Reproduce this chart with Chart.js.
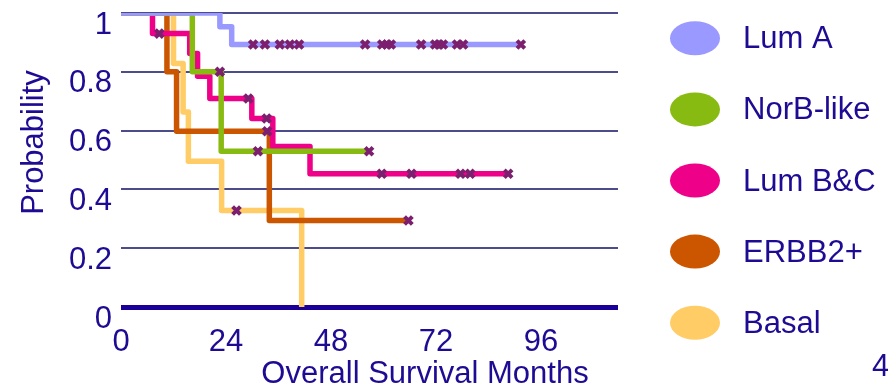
<!DOCTYPE html>
<html><head><meta charset="utf-8">
<script src="https://cdn.jsdelivr.net/npm/chart.js@4/dist/chart.umd.min.js"></script>
<style>html,body{margin:0;padding:0;background:#fff;overflow:hidden}#wrap{width:888px;height:386px;position:relative}</style>
</head><body><div id="wrap"><canvas id="c" width="888" height="386"></canvas></div>
<script>
// ---- data (months, survival probability) ----
const seriesNames  = ['Lum A', 'NorB-like', 'Lum B&C', 'ERBB2+', 'Basal'];
const seriesColors = ['#9999ff', '#88bb11', '#ee0088', '#cc5500', '#ffcc66'];

const lumATimes   = [0, 22.6, 25.3, 91.4];
const lumAProb    = [1, 0.953, 0.893, 0.893];
const lumACensor  = [30.2, 32.9, 36.3, 38.6, 40.7, 55.8, 59.7, 60.8, 61.7, 68.6, 71.8, 72.7, 73.6, 76.8, 78.2, 91.4];

const norbTimes   = [0, 16.3, 22.9, 56.7];
const norbProb    = [1, 0.80, 0.53, 0.53];
const norbCensor  = [22.6, 31.3, 56.7];

const lumBCTimes  = [0, 7.2, 15.7, 17.5, 20.3, 29.9, 34.7, 43.2, 88.5];
const lumBCProb   = [1, 0.93, 0.862, 0.785, 0.709, 0.641, 0.546, 0.453, 0.453];
const lumBCCensor = [8.75, 29.1, 33.3, 59.6, 66.4, 77.6, 79.8, 88.5];

const erbbTimes   = [0, 10.5, 12.7, 33.9, 65.7];
const erbbProb    = [1, 0.80, 0.598, 0.294, 0.294];
const erbbCensor  = [33.4, 65.7];

const basalTimes  = [0, 12.0, 14.2, 15.4, 23.0, 41.3];
const basalProb   = [1, 0.828, 0.663, 0.496, 0.328, 0];
const basalCensor = [26.4];

const xTicks = [0, 24, 48, 72, 96];
const yTicks = [0, 0.2, 0.4, 0.6, 0.8, 1];
const yTickLabels = ['0', '0.2', '0.4', '0.6', '0.8', '1'];
const xTitle = 'Overall Survival Months';
const yTitle = 'Probability';
const pageNumber = '4';

// ---- build ----
const TEXT = '#1e0b94';
const FONT_FAMILY = '"Liberation Sans", Arial, Helvetica, sans-serif';
const series = [
  [lumATimes, lumAProb, lumACensor],
  [norbTimes, norbProb, norbCensor],
  [lumBCTimes, lumBCProb, lumBCCensor],
  [erbbTimes, erbbProb, erbbCensor],
  [basalTimes, basalProb, basalCensor]
];
function survivalAt(times, probs, t) {
  let p = probs[0];
  for (let i = 0; i < times.length; i++) { if (times[i] <= t + 1e-9) p = probs[i]; }
  return p;
}
const datasets = [];
series.forEach(([times, probs, censor], i) => {
  datasets.push({
    label: seriesNames[i],
    data: times.map((t, k) => ({x: t, y: probs[k]})),
    borderColor: seriesColors[i],
    backgroundColor: seriesColors[i],
    borderWidth: 5.5,
    stepped: 'before',
    pointRadius: 0,
    fill: false,
    borderJoinStyle: 'round',
    borderCapStyle: 'butt',
    order: i
  });
});
series.forEach(([times, probs, censor], i) => {
  datasets.push({
    label: seriesNames[i] + ' censored',
    data: censor.map(t => ({x: t, y: survivalAt(times, probs, t)})),
    showLine: false,
    pointStyle: 'crossRot',
    pointRadius: 5.5,
    pointBorderWidth: 4,
    borderColor: '#7b1f6e',
    backgroundColor: '#7b1f6e',
    order: -1
  });
});

const extras = {
  id: 'extras',
  afterDraw(chart) {
    const ctx = chart.ctx;
    ctx.save();
    ctx.font = '31px ' + FONT_FAMILY;
    ctx.textBaseline = 'alphabetic';
    seriesNames.forEach((name, i) => {
      const cy = 38.3 + i * 71.1;
      ctx.beginPath();
      ctx.ellipse(695, cy, 25, 17, 0, 0, Math.PI * 2);
      ctx.fillStyle = seriesColors[i];
      ctx.fill();
      ctx.fillStyle = TEXT;
      ctx.textAlign = 'left';
      ctx.fillText(name, 743, cy + 10);
    });
    ctx.fillStyle = TEXT;
    ctx.textAlign = 'center';
    ctx.fillText(xTitle, 425, 383);
    ctx.textAlign = 'left';
    ctx.fillText(pageNumber, 872, 376);
    ctx.save();
    ctx.translate(42.5, 142.5);
    ctx.rotate(-Math.PI / 2);
    ctx.textAlign = 'center';
    ctx.fillText(yTitle, 0, 0);
    ctx.restore();
    ctx.restore();
  }
};

new Chart(document.getElementById('c'), {
  type: 'line',
  data: { datasets },
  options: {
    responsive: false,
    animation: false,
    events: [],
    layout: { padding: { left: 0, right: 270, top: 13, bottom: 0 } },
    plugins: { legend: { display: false }, tooltip: { enabled: false }, title: { display: false } },
    scales: {
      x: {
        type: 'linear', min: 0, max: 113.6,
        grid: { display: false, drawTicks: false },
        border: { display: false },
        afterBuildTicks: s => { s.ticks = xTicks.map(v => ({value: v})); },
        afterFit: s => { s.height = 79; s.paddingLeft = 0; s.paddingRight = 0; },
        ticks: { color: TEXT, font: { size: 31, family: FONT_FAMILY }, padding: 17, maxRotation: 0, autoSkip: false,
                 callback: v => String(v) }
      },
      y: {
        type: 'linear', min: 0, max: 1,
        grid: {
          drawTicks: false,
          color: c => (c.tick && c.tick.value === 0) ? '#1a0099' : '#4c4c8a',
          lineWidth: c => (c.tick && c.tick.value === 0) ? 5 : 2
        },
        border: { display: false },
        afterBuildTicks: s => { s.ticks = yTicks.map(v => ({value: v})); },
        afterFit: s => { s.width = 121; s.paddingTop = 0; s.paddingBottom = 0; },
        ticks: { color: TEXT, font: { size: 31, family: FONT_FAMILY }, padding: 9, labelOffset: 12, autoSkip: false,
                 callback: (v) => yTickLabels[yTicks.indexOf(v)] }
      }
    }
  },
  plugins: [extras]
});
</script>
</body></html>
